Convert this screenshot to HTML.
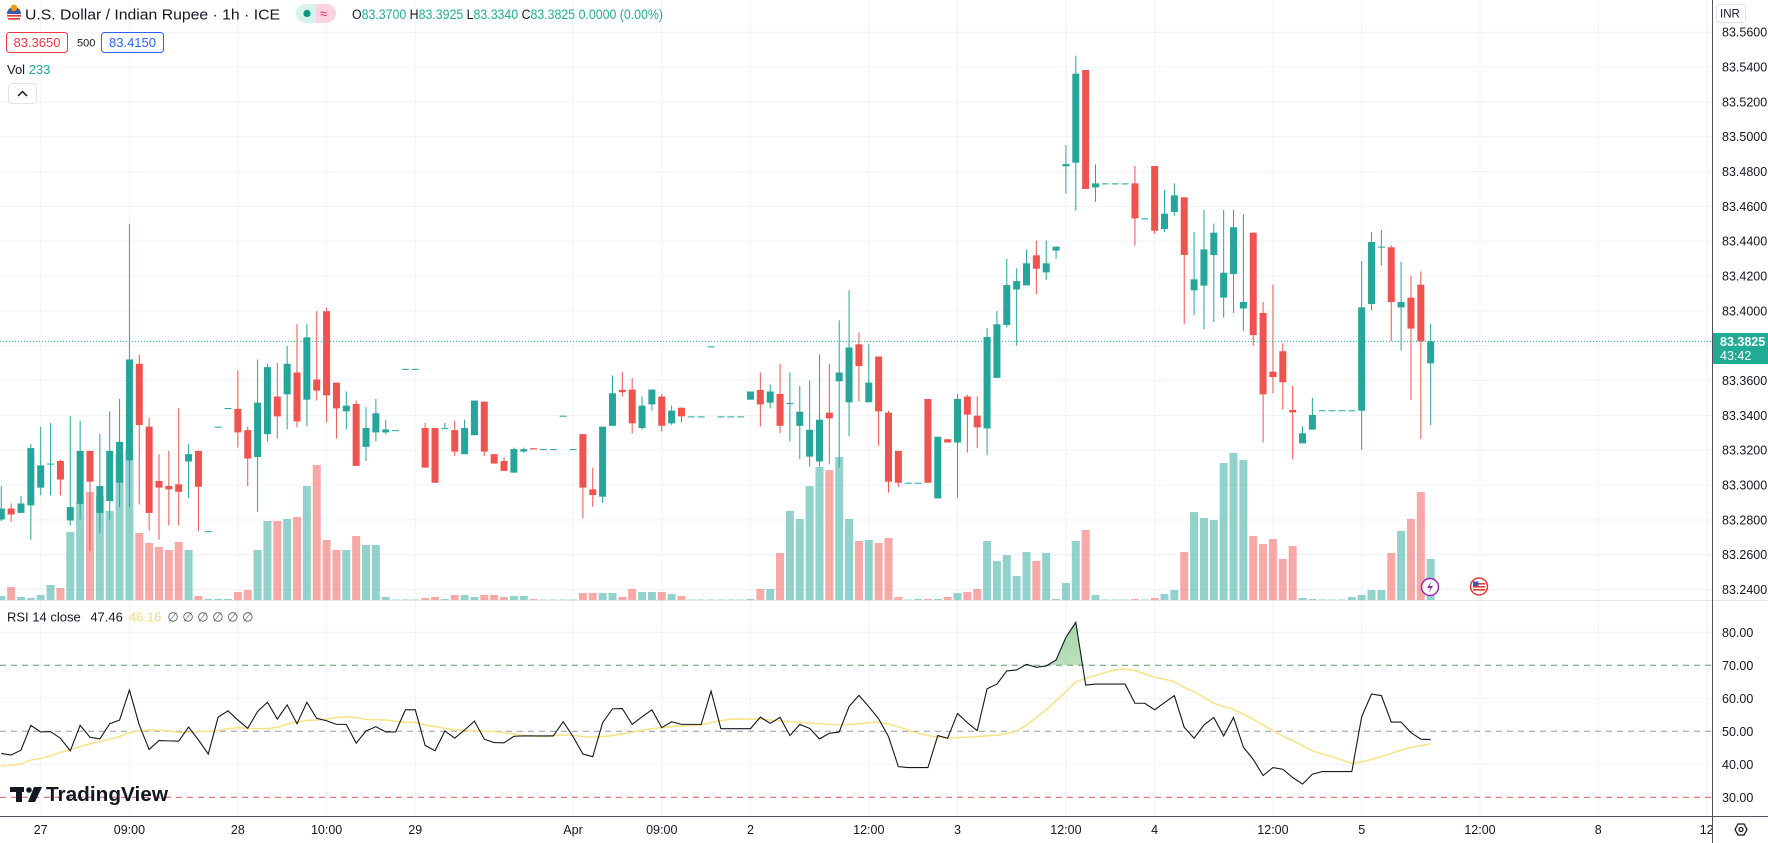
<!DOCTYPE html>
<html><head><meta charset="utf-8"><title>U.S. Dollar / Indian Rupee · 1h</title>
<style>
html,body{margin:0;padding:0;background:#fff;overflow:hidden;}
svg{display:block;font-family:"Liberation Sans",sans-serif;}
</style></head>
<body>
<svg id="chart" width="1768" height="843" viewBox="0 0 1768 843">
  <defs>
    <clipPath id="clipMain"><rect x="0" y="0" width="1712" height="600"/></clipPath>
    <clipPath id="clipRsi"><rect x="0" y="601" width="1712" height="215"/></clipPath>
    <clipPath id="clipOb"><rect x="0" y="600" width="1712" height="65.3"/></clipPath>
    <clipPath id="clipTime"><rect x="0" y="817" width="1712" height="26"/></clipPath>
    <linearGradient id="obGrad" x1="0" y1="0" x2="0" y2="1">
      <stop offset="0" stop-color="#4caf50" stop-opacity="0.5"/>
      <stop offset="1" stop-color="#4caf50" stop-opacity="0.05"/>
    </linearGradient>
  </defs>
  <rect x="0" y="0" width="1768" height="843" fill="#ffffff"/>
  <g id="grid"></g>
  <g id="volumes" clip-path="url(#clipMain)"></g>
  <g id="candles" clip-path="url(#clipMain)"></g>
  <line id="lastLine" x1="0" x2="1712" stroke="#22ab94" stroke-width="1" stroke-dasharray="1 2"/>
  <g id="rsi"></g>

  <line x1="0" y1="600.5" x2="1768" y2="600.5" stroke="#e0e3eb"/>
  <line x1="1712.5" y1="0" x2="1712.5" y2="843" stroke="#50535e"/>
  <line x1="0" y1="816.5" x2="1768" y2="816.5" stroke="#50535e"/>

  <g id="priceAxis"></g>
  <g id="rsiAxis"></g>
  <g id="timeAxis" clip-path="url(#clipTime)"></g>

  <g>
    <rect x="1713" y="333" width="55" height="31" fill="#22ab94"/>
    <text x="1720" y="346" font-size="12.5" fill="#fff" font-weight="bold">83.3825</text>
    <text x="1720" y="360" font-size="12.5" fill="#fff">43:42</text>
  </g>

  <g>
    <rect x="1716.5" y="4.5" width="29" height="18" rx="3" fill="#fff" stroke="#e0e3eb"/>
    <text x="1720" y="17.5" font-size="11.5" fill="#131722">INR</text>
  </g>

  <g>
    <circle cx="14" cy="14" r="7" fill="#f7f7f7" stroke="#ddd" stroke-width="0.5"/>
    <path d="M7 14 A7 7 0 0 1 21 14 Z" fill="#3c5aa6"/>
    <rect x="7" y="15" width="14" height="1.6" fill="#e53935"/>
    <rect x="8" y="18" width="12" height="1.6" fill="#e53935"/>
    <circle cx="14" cy="7.8" r="3.2" fill="#ff9800"/>
  </g>
  <text x="25" y="19.5" font-size="15" fill="#131722" textLength="255" lengthAdjust="spacingAndGlyphs">U.S. Dollar / Indian Rupee · 1h · ICE</text>
  <g>
    <rect x="296" y="4" width="40" height="19" rx="9.5" fill="#d6f2ec"/>
    <path d="M316 4 H326.5 A9.5 9.5 0 0 1 326.5 23 H316 Z" fill="#fbd3df"/>
    <circle cx="307" cy="13.5" r="3.6" fill="#089981"/>
    <text x="320" y="18" font-size="13" fill="#e91e63">≈</text>
  </g>
  <text x="352" y="19" font-size="13.5" fill="#22ab94" textLength="311" lengthAdjust="spacingAndGlyphs"><tspan fill="#131722">O</tspan>83.3700 <tspan fill="#131722">H</tspan>83.3925 <tspan fill="#131722">L</tspan>83.3340 <tspan fill="#131722">C</tspan>83.3825 0.0000 (0.00%)</text>

  <g>
    <rect x="6.5" y="32.5" width="61" height="20" rx="3" fill="#fff" stroke="#f23645"/>
    <text x="37" y="47" font-size="13" fill="#f23645" text-anchor="middle">83.3650</text>
  </g>
  <text x="77" y="46.5" font-size="11" fill="#131722">500</text>
  <g>
    <rect x="101.5" y="32.5" width="62" height="20" rx="3" fill="#fff" stroke="#2962ff"/>
    <text x="132.5" y="47" font-size="13" fill="#2962ff" text-anchor="middle">83.4150</text>
  </g>
  <text x="7" y="74" font-size="13" fill="#131722">Vol <tspan fill="#22ab94">233</tspan></text>
  <g>
    <rect x="8.5" y="83.5" width="28" height="20" rx="4" fill="#fff" stroke="#e0e3eb"/>
    <path d="M18 96 L22.5 91.5 L27 96" fill="none" stroke="#131722" stroke-width="1.5"/>
  </g>

  <text x="7" y="621.5" font-size="13" fill="#131722">RSI 14 close <tspan dx="6" fill="#131722">47.46</tspan><tspan dx="6" fill="#f5d97a">46.16</tspan><tspan dx="6" fill="#50535e">∅ ∅ ∅ ∅ ∅ ∅</tspan></text>

  <g>
    <circle cx="1430" cy="587" r="8.5" fill="#fff" stroke="#9c27b0" stroke-width="1.5"/>
    <path d="M1431.5 581 L1427 588 L1430.5 588 L1428.5 593 L1433 586 L1429.5 586 Z" fill="#9c27b0"/>
  </g>
  <g>
    <circle cx="1479" cy="586.5" r="8.5" fill="#fff" stroke="#e53935" stroke-width="1.5"/>
    <rect x="1473" y="583" width="12" height="1.6" fill="#e53935"/>
    <rect x="1473" y="586" width="12" height="1.6" fill="#e53935"/>
    <rect x="1473" y="589" width="12" height="1.6" fill="#e53935"/>
    <rect x="1473" y="581.5" width="5.5" height="4.5" fill="#3c5aa6"/>
  </g>

  <g>
    <rect x="10" y="787" width="14" height="5" fill="#131722"/>
    <rect x="16" y="787" width="6" height="15" fill="#131722"/>
    <circle cx="29" cy="790" r="2.8" fill="#131722"/>
    <path d="M34 787 L42 787 L35 802 L28 802 Z" fill="#131722"/>
    <text x="46" y="801" font-size="20" font-weight="bold" fill="#131722" textLength="122" lengthAdjust="spacingAndGlyphs">TradingView</text>
  </g>

  <g>
    <path d="M1735 829.5 L1738 824 L1744 824 L1747 829.5 L1744 835 L1738 835 Z" fill="none" stroke="#131722" stroke-width="1.3"/>
    <circle cx="1741" cy="829.5" r="2" fill="none" stroke="#131722" stroke-width="1.3"/>
  </g>
</svg>

<script>
const opens = [83.2802,83.2865,83.2840,83.2883,83.2985,83.3123,83.3138,83.2796,83.2892,83.3196,
83.2840,83.2908,83.3013,83.3142,83.3696,83.3335,83.3023,83.2994,83.3004,83.3135,
83.3196,83.2735,83.3335,83.3442,83.3437,83.3315,83.3161,83.3292,83.3508,83.3521,
83.3646,83.3490,83.3606,83.3998,83.3588,83.3423,83.3465,83.3219,83.3302,83.3302,
83.3315,83.3667,83.3667,83.3327,83.3327,83.3327,83.3315,83.3177,83.3286,83.3479,
83.3177,83.3138,83.3071,83.3192,83.3211,83.3206,83.3206,83.3398,83.3206,83.3292,
83.2975,83.2933,83.3340,83.3546,83.3548,83.3327,83.3463,83.3508,83.3354,83.3444,
83.3394,83.3394,83.3796,83.3394,83.3394,83.3394,
83.3490,83.3546,83.3473,83.3523,83.3471,83.3340,83.3163,83.3135,83.3415,83.3596,
83.3475,83.3808,83.3475,83.3738,83.3415,83.3196,83.3013,83.3013,83.3494,83.2923,
83.3263,83.3244,83.3508,83.3398,83.3325,83.3615,83.3919,83.4123,83.4146,83.4319,
83.4221,83.4346,83.4830,83.4851,83.5383,83.4709,83.4732,83.4732,83.4732,83.4732,
83.4531,83.4832,83.4470,83.4568,83.4652,83.4118,83.4145,83.4321,83.4076,83.4212,
83.4014,83.4449,83.3988,83.3651,83.3768,83.3431,83.3239,83.3318,83.3429,83.3429,
83.3429,83.3429,83.3427,83.4039,83.4369,83.4365,83.4020,83.4076,83.4150,83.3699];

const highs = [83.2994,83.2894,83.2936,83.3235,83.3335,83.3356,83.3146,83.3396,83.3369,83.3196,
83.3292,83.3423,83.3494,83.4500,83.3748,83.3385,83.3177,83.3196,83.3442,83.3235,
83.3196,83.2735,83.3335,83.3442,83.3658,83.3335,83.3721,83.3696,83.3700,83.3798,
83.3923,83.3923,83.3998,83.4019,83.3588,83.3537,83.3485,83.3446,83.3494,83.3375,
83.3315,83.3667,83.3667,83.3356,83.3327,83.3356,83.3369,83.3375,83.3485,83.3479,
83.3177,83.3158,83.3215,83.3215,83.3211,83.3206,83.3206,83.3398,83.3206,83.3292,
83.3100,83.3335,83.3629,83.3648,83.3615,83.3508,83.3548,83.3523,83.3456,83.3444,
83.3394,83.3394,83.3796,83.3394,83.3394,83.3394,
83.3537,83.3646,83.3577,83.3696,83.3646,83.3569,83.3600,83.3750,83.3696,83.3946,
83.4119,83.3875,83.3808,83.3738,83.3427,83.3196,83.3013,83.3013,83.3494,83.3277,
83.3263,83.3523,83.3519,83.3508,83.3902,83.3998,83.4298,83.4244,83.4350,83.4404,
83.4404,83.4369,83.4952,83.5465,83.5383,83.4841,83.4732,83.4732,83.4732,83.4832,
83.4531,83.4832,83.4694,83.4732,83.4652,83.4453,83.4579,83.4501,83.4579,83.4579,
83.4554,83.4449,83.4051,83.4150,83.3814,83.3570,83.3337,83.3500,83.3429,83.3429,
83.3429,83.3429,83.4286,83.4453,83.4464,83.4376,83.4282,83.4202,83.4227,83.3925];

const lows = [83.2792,83.2788,83.2840,83.2686,83.2940,83.2940,83.2940,83.2767,83.2802,83.2619,
83.2725,83.2802,83.2873,83.2873,83.2888,83.2738,83.2686,83.2767,83.2767,83.2927,
83.2735,83.2735,83.3335,83.3442,83.3215,83.2994,83.2846,83.3250,83.3267,83.3319,
83.3331,83.3337,83.3485,83.3360,83.3267,83.3319,83.3110,83.3138,83.3250,83.3292,
83.3315,83.3667,83.3667,83.3100,83.3013,83.3327,83.3167,83.3177,83.3286,83.3167,
83.3123,83.3081,83.3071,83.3186,83.3204,83.3206,83.3206,83.3398,83.3206,83.2808,
83.2875,83.2898,83.3340,83.3508,83.3296,83.3319,83.3427,83.3308,83.3346,83.3360,
83.3394,83.3394,83.3796,83.3394,83.3394,83.3394,
83.3490,83.3337,83.3440,83.3298,83.3250,83.3148,83.3106,83.3106,83.3119,83.3100,
83.3279,83.3481,83.3475,83.3225,83.2956,83.2990,83.3013,83.3013,83.3013,83.2923,
83.3244,83.2927,83.3187,83.3212,83.3171,83.3615,83.3904,83.3800,83.4146,83.4096,
83.4177,83.4298,83.4673,83.4575,83.4700,83.4627,83.4732,83.4732,83.4732,83.4374,
83.4531,83.4443,83.4453,83.4547,83.3923,83.3976,83.3894,83.3936,83.3961,83.3988,
83.3884,83.3800,83.3245,83.3526,83.3433,83.3149,83.3239,83.3318,83.3429,83.3429,
83.3429,83.3429,83.3203,83.4003,83.4261,83.3825,83.3773,83.3490,83.3264,83.3343];

const closes = [83.2865,83.2831,83.2894,83.3212,83.3113,83.3123,83.3031,83.2873,83.3196,83.3019,
83.2994,83.3196,83.3248,83.3721,83.3344,83.2840,83.2985,83.2975,83.2961,83.3177,
83.2990,83.2735,83.3335,83.3442,83.3302,83.3152,83.3473,83.3677,83.3394,83.3696,
83.3365,83.3848,83.3542,83.3515,83.3440,83.3456,83.3110,83.3327,83.3412,83.3319,
83.3315,83.3667,83.3667,83.3100,83.3013,83.3327,83.3192,83.3327,83.3485,83.3192,
83.3123,83.3081,83.3206,83.3206,83.3204,83.3206,83.3206,83.3398,83.3206,83.2985,
83.2942,83.3335,83.3527,83.3533,83.3354,83.3456,83.3548,83.3340,83.3427,83.3394,
83.3394,83.3394,83.3796,83.3394,83.3394,83.3394,
83.3537,83.3463,83.3537,83.3340,83.3471,83.3421,83.3317,83.3375,83.3383,83.3646,
83.3790,83.3683,83.3588,83.3423,83.3019,83.3013,83.3013,83.3013,83.3013,83.3277,
83.3244,83.3494,83.3404,83.3331,83.3850,83.3923,83.4148,83.4171,83.4273,83.4242,
83.4273,83.4369,83.4843,83.5362,83.4700,83.4732,83.4732,83.4732,83.4732,83.4531,
83.4531,83.4460,83.4558,83.4663,83.4321,83.4181,83.4353,83.4449,83.4219,83.4480,
83.4051,83.3861,83.3521,83.3620,83.3590,83.3417,83.3297,83.3402,83.3429,83.3429,
83.3429,83.3429,83.4020,83.4395,83.4369,83.4051,83.4051,83.3898,83.3825,83.3825];

const volumes = [4,13,3,2,5,15,12,68,98,108, 104,89,146,150,67,57,53,50,58,50,
4,1,1,1,8,10,50,79,79,81, 83,114,135,60,50,50,64,55,55,3,
0.5,0.5,0.5,2,3,1,5,5,3,5, 5,3,4,4,1,0.5,0.5,0.5,0.5,7,
7,7,7,3,11,8,8,8,6,4, 0.5,0.5,0.5,0.5,0.5,0.5,
1,11,11,47,89,81,114,133,130,143, 81,59,60,57,62,3,0.5,1,1,1,
3,7,8,11,59,39,45,24,48,39, 47,1,17,59,70,5,0.5,0.5,0.5,1,
0.5,2,6,10,48,88,82,80,137,147, 140,64,56,61,41,54,2,1,0.5,0.5,
0.5,3,5,10,10,47,69,81,108,41];

const rsiValues = [43.3,42.8,44.3,51.8,49.8,49.9,47.9,44.1,51.8,48.2,
47.7,52.3,53.4,62.5,51.9,44.5,47.2,47.1,47.0,51.3,
47.4,43.1,54.3,56.2,53.4,50.9,56.0,58.8,53.7,58.0,
52.3,58.8,53.9,53.2,52.1,52.1,46.4,50.1,51.4,49.8,
49.8,56.5,56.5,45.7,44.1,50.1,47.9,50.4,53.1,47.6,
46.6,46.5,48.5,48.6,48.6,48.6,48.6,52.9,48.4,43.1,
42.3,52.6,56.8,56.9,52.1,54.4,56.5,51.1,52.9,52.1,
52.1,52.1,62.2,50.8,50.8,50.8,
50.8,54.3,52.4,54.2,48.7,52.1,50.9,47.7,49.4,49.8,
57.5,60.9,57.5,53.8,48.4,39.3,39.0,39.0,39.0,48.7,
47.9,55.4,52.6,50.2,62.9,64.3,68.3,68.6,70.3,69.4,
69.8,71.6,78.5,83.0,64.0,64.3,64.3,64.3,64.3,58.5,
58.5,56.5,58.7,60.8,51.2,47.9,51.9,54.2,48.6,54.2,
45.2,41.5,36.6,39.0,38.5,36.0,34.0,37.0,37.8,37.8,
37.8,37.8,54.4,61.3,60.8,52.8,52.8,49.6,47.6,47.5];

const rsiMa = [39.6,39.7,40.1,41.3,41.8,42.6,43.6,44.4,45.4,46.2,
46.9,47.6,48.4,49.6,50.1,50.4,50.3,50.1,49.7,49.7,
49.9,50.0,50.2,50.8,51.1,50.9,50.8,50.8,51.2,52.2,
52.8,53.3,53.4,53.7,54.2,54.4,54.1,53.6,53.5,53.4,
53.0,52.7,52.7,51.9,51.4,50.9,50.5,50.3,50.2,50.0,
49.9,49.6,49.2,48.7,48.6,48.4,48.7,48.9,48.8,48.4,
48.2,48.4,48.7,49.2,49.7,50.3,50.8,51.1,51.4,51.6,
51.7,51.9,52.7,53.2,53.7,53.7,
53.7,53.7,53.4,53.1,52.9,52.7,52.5,52.3,52.1,52.0,
52.1,52.3,52.6,52.8,52.2,51.4,50.3,49.4,48.7,48.2,
48.0,48.1,48.2,48.4,48.6,48.8,49.3,50.1,51.9,54.2,
56.5,59.3,62.0,65.0,66.0,66.9,67.8,68.6,68.9,68.4,
67.4,66.4,65.8,65.0,63.3,62.0,60.3,58.5,57.5,56.7,
55.2,53.6,51.9,50.2,48.6,47.2,45.7,44.1,43.1,42.3,
41.3,40.3,40.7,41.5,42.3,43.3,44.3,45.1,45.7,46.2];

const priceTicks = [83.24,83.26,83.28,83.30,83.32,83.34,83.36,83.38,83.40,83.42,83.44,83.46,83.48,83.50,83.52,83.54,83.56];
const rsiTicks = [30,40,50,60,70,80];
const timeLabels = ['27','09:00','28','10:00','29','Apr','09:00','2','12:00','3','12:00','4','12:00','5','12:00','8','12'];
const timeLabelBars = [4,13,24,33,42,58,67,76,88,97,108,117,129,138,150,162,173];
const lastPrice = 83.3825;

const NS = 'http://www.w3.org/2000/svg';
function xOf(i){ return 1.27 + 9.858 * i; }
function yPrice(p){ return 589.5 - (p - 83.24) * 1741.5; }
function yRsi(v){ return 731.3 - (v - 50) * 3.3; }
function yVol(v){ return 600 - v * 1.0; }
function mk(tag, attrs, parent){
  const el = document.createElementNS(NS, tag);
  for (const k in attrs) el.setAttribute(k, attrs[k]);
  parent.appendChild(el);
  return el;
}

const grid = document.getElementById('grid');
priceTicks.forEach(function(p){
  const l = mk('line', {x1:0, x2:1712, y1:yPrice(p), y2:yPrice(p), stroke:'#f0f3fa', 'stroke-width':1}, grid);
  
  
});
[80,60,40].forEach(function(v){
  const l = mk('line', {x1:0, x2:1712, y1:yRsi(v), y2:yRsi(v), stroke:'#f0f3fa', 'stroke-width':1}, grid);
  
  
});
timeLabelBars.forEach(function(b){
  const l = mk('line', {x1:xOf(b), x2:xOf(b), y1:0, y2:816, stroke:'#f0f3fa', 'stroke-width':1}, grid);
  
  
});

const volG = document.getElementById('volumes');
volumes.forEach(function(v, i){
  const up = closes[i] >= opens[i];
  const y = yVol(v);
  const r = mk('rect', {x:xOf(i)-4, y:y, width:8, height:Math.max(600-y, 0.5), fill: up ? 'rgba(38,166,154,0.5)' : 'rgba(239,83,80,0.5)'}, volG);
  
  
});

const cG = document.getElementById('candles');
opens.forEach(function(o, i){
  const c = closes[i], h = highs[i], l = lows[i];
  const up = c >= o;
  const col = up ? '#26a69a' : '#ef5350';
  const x = xOf(i);
  const g = mk('g', {}, cG);
  
  
  mk('rect', {x:x-0.5, y:yPrice(h), width:1, height:Math.max(yPrice(l)-yPrice(h), 0.5), fill:col}, g);
  const top = yPrice(Math.max(o, c)), bot = yPrice(Math.min(o, c));
  mk('rect', {x:x-3.5, y:top, width:7, height:Math.max(bot-top, 1), fill:col}, g);
});

const ll = document.getElementById('lastLine');
ll.setAttribute('y1', yPrice(lastPrice));
ll.setAttribute('y2', yPrice(lastPrice));

const rG = document.getElementById('rsi');
[[70,'#5b9b6b'],[50,'#9598a1'],[30,'#d05a58']].forEach(function(b){
  const l = mk('line', {x1:0, x2:1712, y1:yRsi(b[0]), y2:yRsi(b[0]), stroke:b[1], 'stroke-width':1, 'stroke-dasharray':'6 5'}, rG);
  
  
});
let fillPts = xOf(0) + ',' + yRsi(70) + ' ';
rsiValues.forEach(function(v, i){ fillPts += xOf(i) + ',' + yRsi(v) + ' '; });
fillPts += xOf(rsiValues.length-1) + ',' + yRsi(70);
const obFill = mk('polygon', {points:fillPts, fill:'url(#obGrad)', 'clip-path':'url(#clipOb)'}, rG);


const maLine = mk('polyline', {points: rsiMa.map(function(v, i){ return xOf(i) + ',' + yRsi(v); }).join(' '), fill:'none', stroke:'#f7e48a', 'stroke-width':1.6, 'clip-path':'url(#clipRsi)'}, rG);


const rsiLine = mk('polyline', {points: rsiValues.map(function(v, i){ return xOf(i) + ',' + yRsi(v); }).join(' '), fill:'none', stroke:'#131722', 'stroke-width':1.1, 'clip-path':'url(#clipRsi)'}, rG);



const pa = document.getElementById('priceAxis');
priceTicks.forEach(function(p){
  const t = mk('text', {x:1722, y:yPrice(p)+4.5, 'font-size':12.5, fill:'#131722'}, pa);
  t.textContent = p.toFixed(4);
  
  
});
const ra = document.getElementById('rsiAxis');
rsiTicks.forEach(function(v){
  const t = mk('text', {x:1722, y:yRsi(v)+4.5, 'font-size':12.5, fill:'#131722'}, ra);
  t.textContent = v.toFixed(2);
  
  
});
const ta = document.getElementById('timeAxis');
timeLabels.forEach(function(lbl, k){
  const t = mk('text', {x:xOf(timeLabelBars[k]), y:834, 'font-size':12.5, fill:'#131722', 'text-anchor':'middle'}, ta);
  t.textContent = lbl;
  
  
});
</script>
</body></html>
